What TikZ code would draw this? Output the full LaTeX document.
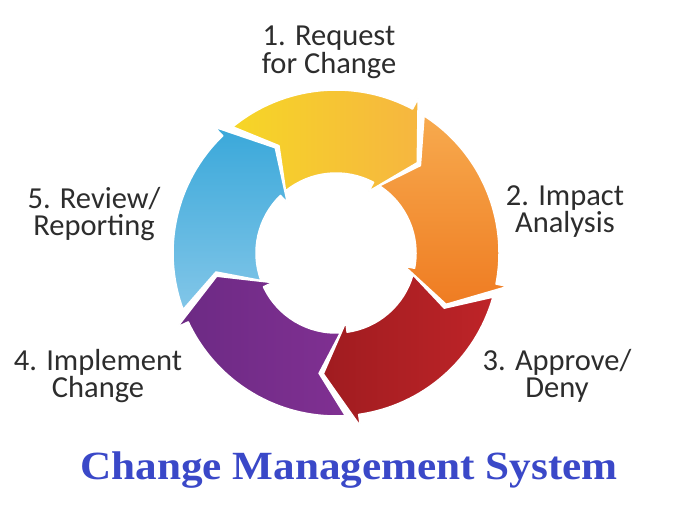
\documentclass[tikz,border=0pt]{standalone}
\usepackage{fontspec}
\setmainfont{Carlito}
\newfontfamily\titlefont{Liberation Serif}
\definecolor{labelgray}{RGB}{45,45,45}
\definecolor{titleblue}{RGB}{58,72,200}
\definecolor{ylwA}{RGB}{246,214,38}
\definecolor{ylwB}{RGB}{246,182,64}
\definecolor{orA}{RGB}{247,170,78}
\definecolor{orB}{RGB}{239,124,34}
\definecolor{rdA}{RGB}{190,36,40}
\definecolor{rdB}{RGB}{160,28,32}
\definecolor{puA}{RGB}{128,48,146}
\definecolor{puB}{RGB}{108,42,132}
\definecolor{blA}{RGB}{58,168,218}
\definecolor{blB}{RGB}{130,198,232}
\newcommand{\cycarrow}[3]{%
  \path[arrowshape,#3] ({#1-4.7}:163) arc[start angle={#1-4.7}, end angle={#2}, radius=163]
    -- (#2:175) -- ({#2-14}:121.5) -- (#2:70) -- (#2:80)
    arc[start angle={#2}, end angle={#1-4.9}, radius=80]
    -- ({#1-16}:121.5) -- cycle;}
\newcommand{\lblfont}{\fontsize{30.5}{27.5}\selectfont\lineskiplimit=-20pt\relax\lineskip=0pt\relax}
\begin{document}
\begin{tikzpicture}[x=1pt,y=1pt,
  lbl/.style={align=center, anchor=base, text=labelgray, inner sep=0pt, font=\lblfont},
  arrowshape/.style={draw=white, line width=1.5pt, line join=round}]
\useasboundingbox (0,0) rectangle (694,532);
\fill[white] (0,0) rectangle (694,532);
\begin{scope}[shift={(336,279)}]
  \cycarrow{134}{62}{left color=ylwA, right color=ylwB}
  \cycarrow{62}{-11}{top color=orA, bottom color=orB}
  \cycarrow{-11}{-82}{right color=rdA, left color=rdB}
  \cycarrow{-82}{-155}{right color=puA, left color=puB}
  \cycarrow{-155}{-226}{top color=blA, bottom color=blB}
\end{scope}
\node[lbl] (l1) at (329,458.7) {1. Request\\for Change};
\node[lbl] (l2) at (565,299) {2. Impact\\Analysis};
\node[lbl] (l3) at (557,134) {3. Approve/\\Deny};
\node[lbl] (l4) at (98,134) {4. Implement\\Change};
\node[lbl] (l5) at (94,296) {5. Review/\\Reporting};
\node[anchor=base, inner sep=0pt, text=titleblue, xscale=1.08,
  font=\titlefont\bfseries\fontsize{40}{48}\selectfont] (title) at (349,52.7) {Change Management System};
\end{tikzpicture}
\end{document}
